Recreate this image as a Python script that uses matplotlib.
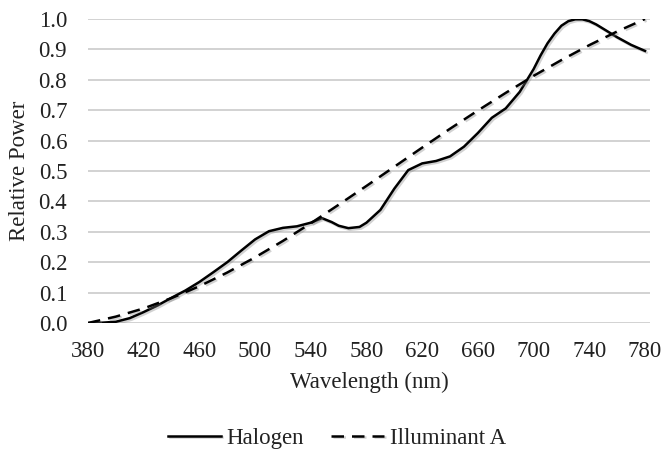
import matplotlib
matplotlib.use("Agg")
import matplotlib.pyplot as plt
import matplotlib.patheffects as pe

halogen_nm = [380, 390, 400, 410, 420, 430, 440, 450, 460, 470, 480, 490, 500,
              510, 520, 530, 540, 548, 555, 560, 567, 575, 580, 590, 600, 610,
              620, 630, 640, 650, 660, 670, 680, 690, 700, 705, 710, 715, 720,
              725, 730, 735, 740, 745, 750, 760, 770, 780]
halogen_val = [0.000, 0.001, 0.004, 0.016, 0.036, 0.058, 0.083, 0.107, 0.135,
               0.167, 0.200, 0.238, 0.275, 0.302, 0.313, 0.318, 0.330, 0.345,
               0.332, 0.320, 0.312, 0.316, 0.330, 0.372, 0.442, 0.503, 0.525,
               0.533, 0.548, 0.580, 0.625, 0.675, 0.706, 0.760, 0.835, 0.880,
               0.920, 0.952, 0.978, 0.993, 0.999, 0.999, 0.993, 0.982, 0.968,
               0.940, 0.915, 0.895]

# Illuminant A relative power
illum_nm = [380, 400, 420, 440, 460, 480, 500, 520, 540, 560, 580, 600, 620,
            640, 660, 680, 700, 720, 740, 760, 780]
illum_val = [0.000, 0.021, 0.048, 0.082, 0.121, 0.166, 0.216, 0.270, 0.328,
             0.389, 0.451, 0.514, 0.577, 0.639, 0.699, 0.757, 0.813, 0.865,
             0.914, 0.959, 1.000]

x_ticks = [380, 420, 460, 500, 540, 580, 620, 660, 700, 740, 780]
y_ticks = [0.0, 0.1, 0.2, 0.3, 0.4, 0.5, 0.6, 0.7, 0.8, 0.9, 1.0]

plt.rcParams['font.family'] = ['Liberation Serif', 'DejaVu Serif']

fig = plt.figure(figsize=(6.66, 4.53), dpi=100)
ax = fig.add_axes([88/666, 1-323/453, (650-88)/666, (323-19)/453])

shadow = [pe.SimpleLineShadow(offset=(1.2, -1.2), shadow_color='gray', alpha=0.35),
          pe.Normal()]

ax.plot(halogen_nm, halogen_val, color='black', lw=1.8, label='Halogen',
        path_effects=shadow, solid_joinstyle='round')
ax.plot(illum_nm, illum_val, color='black', lw=1.8, dashes=(5, 3.2),
        label='Illuminant A', path_effects=shadow)

ax.set_xlim(380, 783.6)
ax.set_ylim(0, 1.0)
ax.set_xticks(x_ticks)
ax.set_yticks(y_ticks)
ax.set_yticklabels([f"{v:.1f}" for v in y_ticks])
ax.grid(axis='y', color='#cfcfcf', lw=1.3)
ax.set_axisbelow(True)
for s in ax.spines.values():
    s.set_visible(False)
ax.tick_params(axis='both', length=0, labelsize=16.5, colors='#222222')
ax.tick_params(axis='x', pad=13)
ax.tick_params(axis='y', pad=15)

ax.set_xlabel('Wavelength (nm)', fontsize=16.5, color='#222222', labelpad=7)
ax.set_ylabel('Relative Power', fontsize=16.5, color='#222222', labelpad=6)

leg = fig.legend(loc='center', bbox_to_anchor=(337/666, 1-438/453), ncol=2,
                 frameon=False, fontsize=16.5, handlelength=2.3,
                 handletextpad=0.25, columnspacing=1.2)
for t in leg.get_texts():
    t.set_color('#222222')

fig.savefig('out.png', dpi=100)
